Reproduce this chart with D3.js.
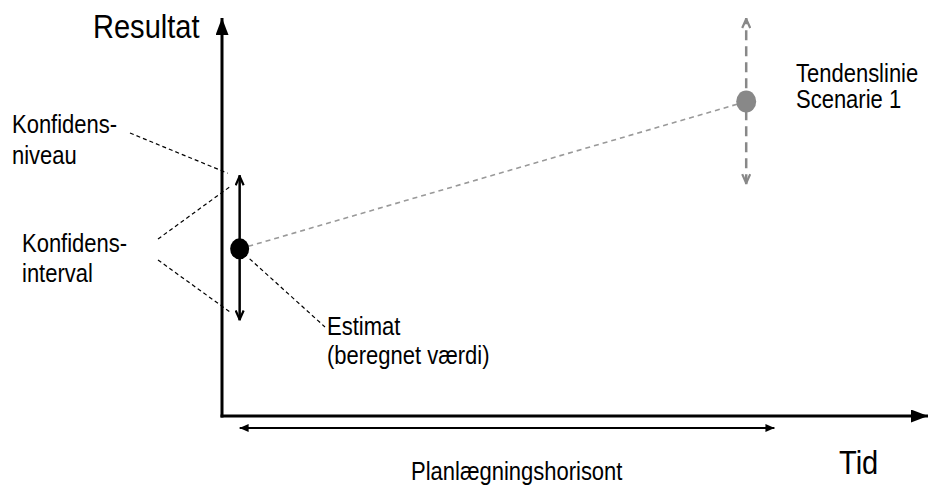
<!DOCTYPE html>
<html>
<head>
<meta charset="utf-8">
<script src="https://cdn.jsdelivr.net/npm/d3@7"></script>
<style>
  html, body { margin: 0; padding: 0; background: #fff; }
  svg text { font-family: "Liberation Sans", Arial, sans-serif; fill: #000; }
</style>
</head>
<body>
<svg id="chart" width="928" height="487"></svg>
<script>
// ---------- data (conceptual units: time vs. result) ----------
const axisTitles = ["Resultat", "Tid"];
const timeDomain = [0, 40];
const resultDomain = [0, 40];
// estimate: time, value, confidence interval low/high
const estimateT = [1];
const estimateValue = [16.8];
const estimateInterval = [9.6, 24.2];
// scenario: time, value, range low/high
const scenarioT = [29.7];
const scenarioValue = [31.6];
const scenarioRange = [23.3, 40];
// planning horizon (time from / to)
const horizon = [1, 31.3];
const labelNiveau = ["Konfidens-", "niveau"];
const labelInterval = ["Konfidens-", "interval"];
const labelEstimat = ["Estimat", "(beregnet værdi)"];
const labelScenario = ["Tendenslinie", "Scenarie 1"];
const labelHorizon = ["Planlægningshorisont"];

// ---------- layout ----------
const svg = d3.select("#chart");
const x = d3.scaleLinear().domain(timeDomain).range([222, 928]);
const y = d3.scaleLinear().domain(resultDomain).range([416, 18]);
const SX = 0.88; // horizontal text compression

const defs = svg.append("defs");
function marker(id, color, filled, w, h) {
  const m = defs.append("marker").attr("id", id)
    .attr("viewBox", `0 0 ${w} ${h}`).attr("refX", w).attr("refY", h / 2)
    .attr("markerWidth", w).attr("markerHeight", h)
    .attr("markerUnits", "userSpaceOnUse").attr("orient", "auto-start-reverse");
  if (filled) {
    m.append("path").attr("d", `M0,0L${w},${h/2}L0,${h}Z`).attr("fill", color);
  } else {
    m.append("path").attr("d", `M1,1L${w-1},${h/2}L1,${h-1}`)
      .attr("fill", "none").attr("stroke", color).attr("stroke-width", 2.2);
  }
}
marker("axisArrow", "#000", true, 17, 13);
marker("openBlack", "#000", false, 11, 10);
marker("openGrey", "#888", false, 11, 10);
marker("smallArrow", "#000", true, 9, 8);

const line = d3.line().x(d => d[0]).y(d => d[1]);

// axes
svg.append("path").attr("d", line([[x(0), y(0) + 1.5], [x(0), y(resultDomain[1])]]))
  .attr("stroke", "#000").attr("stroke-width", 3).attr("fill", "none")
  .attr("marker-end", "url(#axisArrow)");
svg.append("path").attr("d", line([[x(0) - 1.5, y(0)], [x(timeDomain[1]), y(0)]]))
  .attr("stroke", "#000").attr("stroke-width", 3).attr("fill", "none")
  .attr("marker-end", "url(#axisArrow)");

function multiline(lines, x0, y0, lh, size) {
  const t = svg.append("text").attr("font-size", size)
    .attr("transform", `translate(${x0},${y0}) scale(${SX},1)`);
  lines.forEach((s, i) => t.append("tspan").attr("x", 0).attr("y", i * lh).text(s));
  return t;
}

// axis titles
multiline([axisTitles[0]], 93, 38, 0, 33);
multiline([axisTitles[1]], 839, 474, 0, 33);

// planning horizon
svg.append("path").attr("d", line([[x(horizon[0]), 428], [x(horizon[1]), 428]]))
  .attr("stroke", "#000").attr("stroke-width", 2).attr("fill", "none")
  .attr("marker-start", "url(#smallArrow)").attr("marker-end", "url(#smallArrow)");
multiline(labelHorizon, 411, 480, 0, 25);

// trend line (estimate -> scenario)
svg.append("path").attr("d", line([[x(estimateT[0]), y(estimateValue[0])], [x(scenarioT[0]), y(scenarioValue[0])]]))
  .attr("stroke", "#999").attr("stroke-width", 1.6).attr("stroke-dasharray", "5,4").attr("fill", "none");

// scenario range (grey dashed double arrow)
svg.append("path").attr("d", line([[x(scenarioT[0]), y(scenarioRange[0])], [x(scenarioT[0]), y(scenarioRange[1])]]))
  .attr("stroke", "#888").attr("stroke-width", 2.5).attr("stroke-dasharray", "10,6").attr("fill", "none")
  .attr("marker-start", "url(#openGrey)").attr("marker-end", "url(#openGrey)");
svg.append("ellipse").attr("cx", x(scenarioT[0])).attr("cy", y(scenarioValue[0]))
  .attr("rx", 10).attr("ry", 11).attr("fill", "#888");

// confidence interval (black double arrow)
svg.append("path").attr("d", line([[x(estimateT[0]), y(estimateInterval[0])], [x(estimateT[0]), y(estimateInterval[1])]]))
  .attr("stroke", "#000").attr("stroke-width", 2.5).attr("fill", "none")
  .attr("marker-start", "url(#openBlack)").attr("marker-end", "url(#openBlack)");
svg.append("ellipse").attr("cx", x(estimateT[0])).attr("cy", y(estimateValue[0]))
  .attr("rx", 9.5).attr("ry", 10.5).attr("fill", "#000");

// leader lines (dashed)
const ex = x(estimateT[0]);
const leaders = [
  [[130, 133], [ex - 12, y(estimateInterval[1]) - 2]],
  [[158, 239], [ex - 9, y(estimateInterval[1]) + 11]],
  [[158, 260], [ex - 9, y(estimateInterval[0]) - 8]],
  [[ex + 10, y(estimateValue[0]) + 10], [325, 327]]
];
leaders.forEach(l => {
  svg.append("path").attr("d", line(l)).attr("stroke", "#000").attr("stroke-width", 1.2)
    .attr("stroke-dasharray", "4,3").attr("fill", "none");
});

// labels
multiline(labelNiveau, 12, 133, 31, 25);
multiline(labelInterval, 22, 252, 30, 25);
multiline(labelEstimat, 327, 335, 29, 25);
multiline(labelScenario, 796, 82, 26, 25);
</script>
</body>
</html>
